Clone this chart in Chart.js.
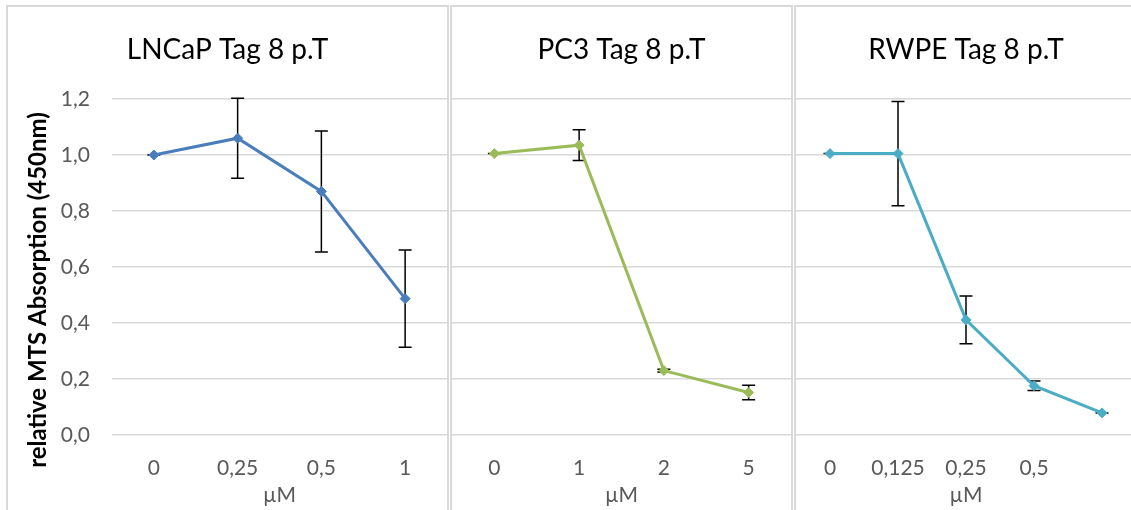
<!DOCTYPE html>
<html>
<head>
<meta charset="utf-8">
<script src="https://cdn.jsdelivr.net/npm/chart.js@4.4.1/dist/chart.umd.min.js"></script>
<style>
  html, body { margin: 0; padding: 0; background: #fff; overflow: hidden; width: 1131px; height: 510px; }
  .panel { position: absolute; top: 5px; border: 2px solid #d9d9d9; background: #fff; }
  .panel canvas { display: block; }
</style>
</head>
<body>
<div class="panel" style="left:6px;"><canvas id="lncap" width="439" height="510"></canvas></div>
<div class="panel" style="left:450px;"><canvas id="pc3" width="339" height="510"></canvas></div>
<div class="panel" style="left:794px;"><canvas id="rwpe" width="340" height="510"></canvas></div>
<script>
// LNCaP, day 8 post treatment
const lncapDoses = ['0', '0,25', '0,5', '1'];
const lncapMeans = [1.0, 1.06, 0.87, 0.487];
const lncapErrors = [0, 0.143, 0.216, 0.174];

// PC3, day 8 post treatment
const pc3Doses = ['0', '1', '2', '5'];
const pc3Means = [1.005, 1.035, 0.23, 0.152];
const pc3Errors = [0, 0.055, 0.005, 0.026];

// RWPE, day 8 post treatment (last dose has no label)
const rwpeDoses = ['0', '0,125', '0,25', '0,5', ''];
const rwpeMeans = [1.005, 1.005, 0.411, 0.176, 0.079];
const rwpeErrors = [0, 0.186, 0.085, 0.017, 0];

const yTicks = [0, 0.2, 0.4, 0.6, 0.8, 1.0, 1.2];

const FONT = 'Lato, "Open Sans", sans-serif';
const GRID = '#d9d9d9';
const TICK = '#595959';

// Symmetric error bars with caps, drawn beneath the line and markers
const errorBars = {
  id: 'errorBars',
  beforeDatasetsDraw(chart) {
    const {ctx, scales: {x, y}} = chart;
    ctx.save();
    ctx.strokeStyle = '#000';
    ctx.lineWidth = 1.5;
    chart.data.datasets.forEach(ds => {
      (ds.errors || []).forEach((e, i) => {
        const px = x.getPixelForValue(i);
        const top = y.getPixelForValue(ds.data[i] + e);
        const bot = y.getPixelForValue(ds.data[i] - e);
        const cap = 6.5;
        ctx.beginPath();
        ctx.moveTo(px, top); ctx.lineTo(px, bot);
        ctx.moveTo(px - cap, top); ctx.lineTo(px + cap, top);
        ctx.moveTo(px - cap, bot); ctx.lineTo(px + cap, bot);
        ctx.stroke();
      });
    });
    ctx.restore();
  }
};

// Rotated value-axis caption
const yCaption = {
  id: 'yCaption',
  afterDraw(chart, args, opts) {
    if (!opts.text) return;
    const {ctx} = chart;
    ctx.save();
    ctx.translate(opts.x, opts.y);
    ctx.rotate(-Math.PI / 2);
    ctx.font = 'bold 24px ' + FONT;
    ctx.fillStyle = '#000';
    ctx.textAlign = 'center';
    ctx.textBaseline = 'middle';
    ctx.fillText(opts.text, 0, 0);
    ctx.restore();
  }
};

function makePanel(id, title, doses, means, errors, color, showY) {
  return new Chart(document.getElementById(id), {
    type: 'line',
    data: {
      labels: doses,
      datasets: [{
        data: means,
        errors: errors,
        borderColor: color,
        backgroundColor: color,
        borderWidth: 3,
        pointStyle: 'rectRot',
        pointRadius: 5,
        pointBorderWidth: 1,
        pointBackgroundColor: color,
        pointBorderColor: color,
        tension: 0,
        clip: false
      }]
    },
    options: {
      responsive: false,
      devicePixelRatio: 1,
      animation: false,
      layout: { padding: 0, autoPadding: false },
      plugins: {
        legend: { display: false },
        tooltip: { enabled: false },
        title: {
          display: true,
          text: title,
          color: '#000',
          font: { family: FONT, size: 28, weight: 'normal' },
          padding: { top: 26.2, bottom: 32.2 }
        },
        yCaption: showY ? { text: 'relative MTS Absorption (450nm)', x: 30, y: 283 } : {}
      },
      scales: {
        x: {
          offset: true,
          grid: { display: false, drawTicks: false },
          border: { display: false },
          ticks: { color: TICK, font: { family: FONT, size: 21 }, padding: 21, maxRotation: 0, autoSkip: false },
          title: { display: true, text: 'µM', color: TICK, font: { family: FONT, size: 21 }, padding: { top: 0, bottom: 9 } },
          afterFit: s => { s.height = 82; }
        },
        y: {
          min: 0,
          max: 1.2,
          afterBuildTicks: s => { s.ticks = yTicks.map(v => ({ value: v })); },
          grid: { color: GRID, lineWidth: 1.5, drawTicks: false },
          border: { display: false },
          ticks: {
            display: showY,
            color: TICK,
            font: { family: FONT, size: 21 },
            padding: 22,
            callback: v => v.toFixed(1).replace('.', ',')
          },
          afterFit: s => { s.width = showY ? 104 : 0; }
        }
      }
    },
    plugins: [errorBars, yCaption]
  });
}

makePanel('lncap', 'LNCaP Tag 8 p.T', lncapDoses, lncapMeans, lncapErrors, '#4a7ebb', true);
makePanel('pc3', 'PC3 Tag 8 p.T', pc3Doses, pc3Means, pc3Errors, '#9bbb59', false);
makePanel('rwpe', 'RWPE Tag 8 p.T', rwpeDoses, rwpeMeans, rwpeErrors, '#4bacc6', false);
</script>
</body>
</html>
